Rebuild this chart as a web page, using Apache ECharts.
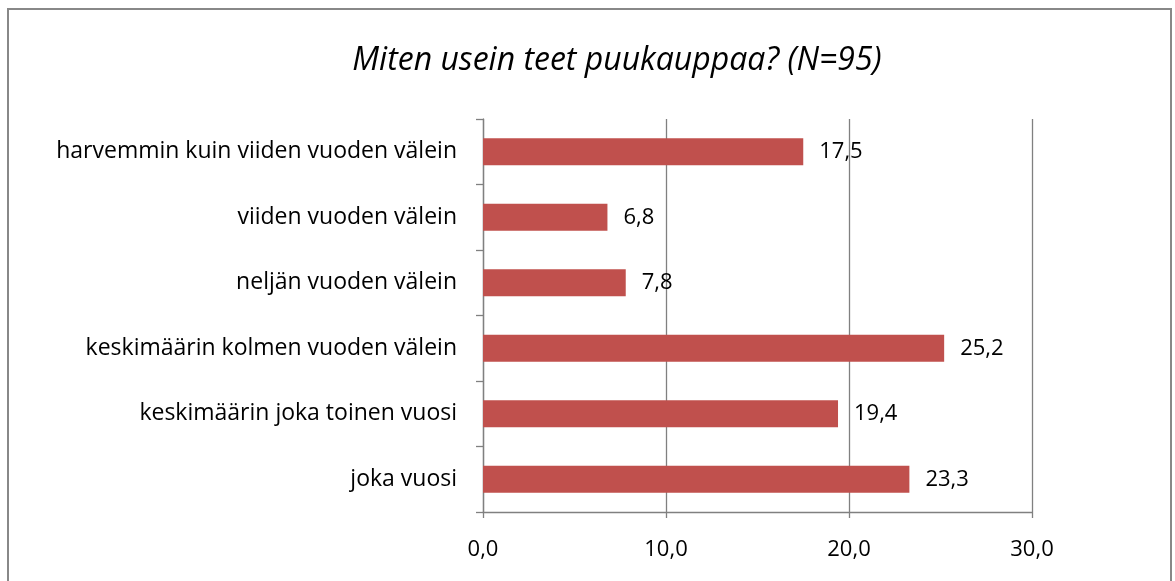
<!DOCTYPE html>
<html>
<head>
<meta charset="utf-8">
<script src="https://cdn.jsdelivr.net/npm/echarts@6/dist/echarts.min.js"></script>
<style>
  html, body { margin: 0; padding: 0; background: #fff; }
  #chart { width: 1175px; height: 581px; }
</style>
</head>
<body>
<div id="chart"></div>
<script>
// kategoriat alhaalta ylös (ECharts piirtää kategoria-akselin alhaalta)
var categories = [
  'joka vuosi',
  'keskimäärin joka toinen vuosi',
  'keskimäärin kolmen vuoden välein',
  'neljän vuoden välein',
  'viiden vuoden välein',
  'harvemmin kuin viiden vuoden välein'
];
var values = [23.3, 19.4, 25.2, 7.8, 6.8, 17.5];
var xTicks = [0, 10, 20, 30];

function fmt(v) {
  return Number(v).toFixed(1).replace('.', ',');
}

var font = '"Open Sans", "Noto Sans", sans-serif';
var chart = echarts.init(document.getElementById('chart'));
var option = {
  animation: false,
  title: {
    text: 'Miten usein teet puukauppaa? (N=95)',
    left: 612,
    textAlign: 'center',
    top: 40,
    textStyle: {
      fontFamily: font,
      fontStyle: 'italic',
      fontWeight: 'normal',
      fontSize: 32,
      color: '#000'
    }
  },
  graphic: [{
    type: 'rect',
    shape: { x: 8, y: 9, width: 1163, height: 600 },
    style: { fill: 'none', stroke: '#888', lineWidth: 2 },
    silent: true
  }],
  grid: { left: 483, right: 143, top: 119, bottom: 69 },
  xAxis: {
    type: 'value',
    min: xTicks[0],
    max: xTicks[xTicks.length - 1],
    interval: 10,
    axisLine: { show: true, lineStyle: { color: '#808080', width: 1.3 } },
    axisTick: { show: true, length: 6, lineStyle: { color: '#808080', width: 1.3 } },
    splitLine: { show: true, lineStyle: { color: '#808080', width: 1.3 } },
    axisLabel: {
      formatter: fmt,
      margin: 27,
      fontFamily: font,
      fontSize: 22,
      color: '#000'
    }
  },
  yAxis: {
    type: 'category',
    data: categories,
    axisLine: { show: true, lineStyle: { color: '#808080', width: 1.3 } },
    axisTick: { show: true, length: 7, lineStyle: { color: '#808080', width: 1.3 } },
    axisLabel: {
      margin: 26,
      fontFamily: font,
      fontSize: 23,
      color: '#000'
    }
  },
  series: [{
    type: 'bar',
    data: values,
    barCategoryGap: '59%',
    itemStyle: { color: '#C0504D' },
    label: {
      show: true,
      position: 'right',
      distance: 16,
      formatter: function (p) { return fmt(p.value); },
      fontFamily: font,
      fontSize: 22,
      color: '#000'
    }
  }]
};
chart.setOption(option);
</script>
</body>
</html>
